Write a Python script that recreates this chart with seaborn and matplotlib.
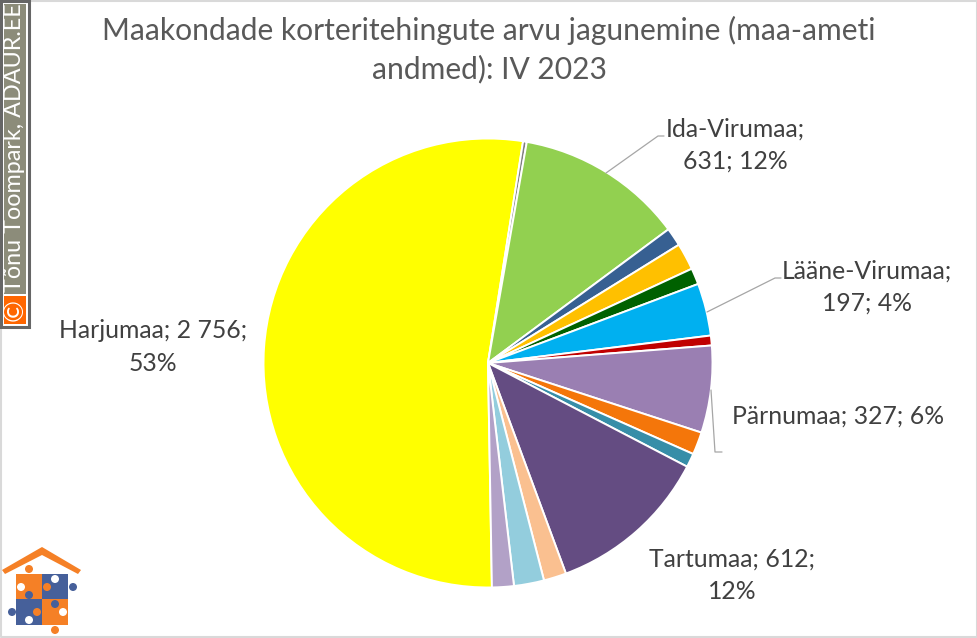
import matplotlib
matplotlib.use("Agg")
import matplotlib.pyplot as plt
from matplotlib.patches import Rectangle, Circle, Polygon
import seaborn as sns

# Data (unlabelled slices are estimates, in drawing order)
labels = ["Harjumaa", "", "Ida-Virumaa", "", "", "", "Lääne-Virumaa", "", "Pärnumaa",
          "", "", "Tartumaa", "", "", ""]
values = [2756, 14, 631, 69, 101, 61, 197, 37, 327, 85, 52, 612, 85, 113, 82]
colors = ["#FFFF00", "#7F7F7F", "#92D050", "#376092", "#FFC000", "#006100", "#00B0F0", "#C00000",
          "#9A7FB2", "#F4760A", "#378EA8", "#644C82", "#FAC090", "#93CDDD", "#B2A1C7"]
title_lines = "Maakondade korteritehingute arvu jagunemine (maa-ameti\nandmed): IV 2023"
watermark = "Tõnu Toompark, ADAUR.EE"

sns.set_theme(style="white")
plt.rcParams["font.family"] = ["Lato", "DejaVu Sans"]
W, H = 977, 638
fig = plt.figure(figsize=(W / 100, H / 100), dpi=100, facecolor="white")
ax = fig.add_axes([0, 0, 1, 1])
ax.set_xlim(0, W)
ax.set_ylim(H, 0)
ax.axis("off")

# pie lives in its own axes, sized to the disc
cx, cy, R = 488, 363, 224.5
pie_ax = fig.add_axes([(cx - R) / W, 1 - (cy + R) / H, 2 * R / W, 2 * R / H])
palette = sns.color_palette(colors)
pie_ax.pie(values, colors=palette, startangle=90 - 179.0, counterclock=False, radius=1,
           wedgeprops=dict(edgecolor="white", linewidth=1.4))
pie_ax.set_xlim(-1, 1)
pie_ax.set_ylim(-1, 1)
pie_ax.set_zorder(0)
ax.set_zorder(1)
ax.patch.set_alpha(0)

# chart frame
frame = "#D9D9D9"
ax.plot([0.5, W - 0.5, W - 0.5, 0.5, 0.5], [0.5, 0.5, H - 1, H - 1, 0.5], color=frame, lw=1.5)

# title
ax.text(489, 50, title_lines, ha="center", va="center", fontsize=21.6, color="#595959",
        linespacing=1.42)

# data labels
total = sum(values)
def data_label(name):
    i = labels.index(name)
    v = f"{values[i]:,}".replace(",", " ")
    return v, f"{round(100 * values[i] / total)}%"

txt = "#404040"
fs = 17.8
ls = 1.5
v, p = data_label("Harjumaa")
ax.text(153, 347, f"Harjumaa; {v};\n{p}", ha="center", va="center", fontsize=fs, color=txt, linespacing=ls)
v, p = data_label("Ida-Virumaa")
ax.text(735, 145, f"Ida-Virumaa;\n{v}; {p}", ha="center", va="center", fontsize=fs, color=txt, linespacing=ls)
v, p = data_label("Lääne-Virumaa")
ax.text(867, 287, f"Lääne-Virumaa;\n{v}; {p}", ha="center", va="center", fontsize=fs, color=txt, linespacing=ls)
v, p = data_label("Pärnumaa")
ax.text(838, 416, f"Pärnumaa; {v}; {p}", ha="center", va="center", fontsize=fs, color=txt)
v, p = data_label("Tartumaa")
ax.text(732, 575, f"Tartumaa; {v};\n{p}", ha="center", va="center", fontsize=fs, color=txt, linespacing=ls)

# leader lines
lead = "#A6A6A6"
ax.plot([606, 658, 664], [173, 136, 136], color=lead, lw=0.9)
ax.plot([707, 775, 781], [312, 278, 278], color=lead, lw=0.9)
ax.plot([711, 715, 722], [390, 452, 452], color=lead, lw=0.9)

# vertical watermark
ax.add_patch(Rectangle((1, 1), 28, 326, fc="white", ec="#666666", lw=2.2, zorder=3))
ax.add_patch(Rectangle((4, 4), 22, 290, fc="#8C8C7A", ec="none", zorder=4))
ax.add_patch(Rectangle((4, 296), 22, 28, fc="#FF6600", ec="none", zorder=4))
ax.text(15, 292, watermark, rotation=90, ha="center", va="bottom", fontsize=16.8, color="white", zorder=5)
ax.text(15.5, 310, "©", rotation=90, ha="center", va="center", fontsize=19, color="white", zorder=5)

# house and puzzle logo
orange, blue = "#F58026", "#46609A"
ax.add_patch(Polygon([(2, 570), (42, 547), (81, 570), (78, 574), (42, 555), (5, 574)],
                     closed=True, fc=orange, ec="none", zorder=3))
ax.add_patch(Rectangle((16, 574), 26, 25, fc=orange, ec="none", zorder=3))
ax.add_patch(Rectangle((42, 574), 26, 25, fc=blue, ec="none", zorder=3))
ax.add_patch(Rectangle((16, 599), 26, 26, fc=blue, ec="none", zorder=3))
ax.add_patch(Rectangle((42, 599), 26, 26, fc=orange, ec="none", zorder=3))
for x, y, c in [(29, 569, orange), (73, 587, blue), (12, 612, blue), (55, 630, orange),
                (47, 587, orange), (29, 595, blue), (55, 604, blue), (37, 612, orange)]:
    ax.add_patch(Circle((x, y), 4, fc=c, ec="none", zorder=4))
for x, y in [(55, 579), (21, 587), (63, 612), (29, 620)]:
    ax.add_patch(Circle((x, y), 4, fc="white", ec="none", zorder=4))

fig.savefig("out.png", dpi=100)
